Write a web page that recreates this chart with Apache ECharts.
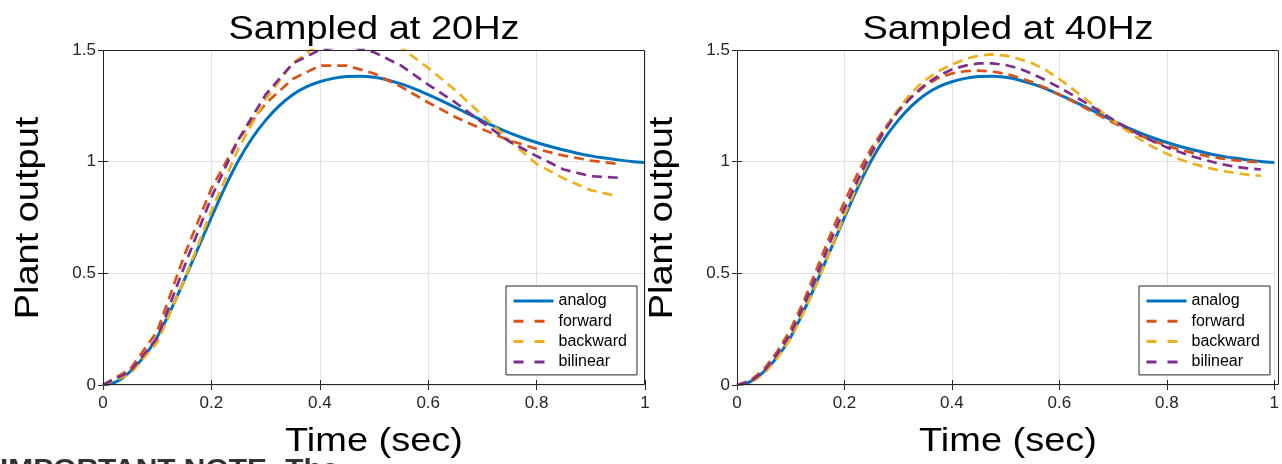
<!DOCTYPE html>
<html><head><meta charset="utf-8">
<script src="https://cdn.jsdelivr.net/npm/echarts@6/dist/echarts.min.js"></script>
<style>html,body{margin:0;padding:0;background:#fff;overflow:hidden}#c{width:1282px;height:464px}</style>
</head><body><div id="c"></div>
<script>
// ---- data ----
const seriesNames = ['analog', 'forward', 'backward', 'bilinear'];
const titles = ['Sampled at 20Hz', 'Sampled at 40Hz'];
const xTickLabels = ['0', '0.2', '0.4', '0.6', '0.8', '1'];
const yTickLabels = ['0', '0.5', '1', '1.5'];

const tAnalog = [0, 0.025, 0.05, 0.075, 0.1, 0.125, 0.15, 0.175, 0.2, 0.225, 0.25, 0.275, 0.3, 0.325, 0.35, 0.375, 0.4, 0.425, 0.45, 0.475, 0.5, 0.525, 0.55, 0.575, 0.6, 0.625, 0.65, 0.675, 0.7, 0.725, 0.75, 0.775, 0.8, 0.825, 0.85, 0.875, 0.9, 0.925, 0.95, 0.975, 1.0];
const analog = [0, 0.015, 0.06, 0.125, 0.215, 0.335, 0.47, 0.61, 0.75, 0.885, 1.005, 1.105, 1.185, 1.25, 1.3, 1.335, 1.358, 1.373, 1.381, 1.383, 1.378, 1.366, 1.348, 1.326, 1.3, 1.272, 1.243, 1.213, 1.183, 1.155, 1.129, 1.106, 1.086, 1.068, 1.052, 1.038, 1.026, 1.016, 1.008, 1.001, 0.996];

const t20 = [0, 0.05, 0.1, 0.15, 0.2, 0.25, 0.3, 0.35, 0.4, 0.45, 0.5, 0.55, 0.6, 0.65, 0.7, 0.75, 0.8, 0.85, 0.9, 0.95];
const forward20 = [0, 0.07, 0.24, 0.58, 0.88, 1.1, 1.26, 1.37, 1.43, 1.43, 1.395, 1.335, 1.265, 1.2, 1.145, 1.095, 1.057, 1.027, 1.005, 0.99];
const backward20 = [0, 0.05, 0.19, 0.47, 0.78, 1.06, 1.28, 1.44, 1.53, 1.57, 1.56, 1.51, 1.42, 1.32, 1.207, 1.095, 0.99, 0.925, 0.872, 0.845];
const bilinear20 = [0, 0.06, 0.21, 0.53, 0.84, 1.1, 1.3, 1.44, 1.5, 1.52, 1.49, 1.43, 1.345, 1.265, 1.175, 1.09, 1.025, 0.965, 0.935, 0.928];

const t40 = [0, 0.025, 0.05, 0.075, 0.1, 0.125, 0.15, 0.175, 0.2, 0.225, 0.25, 0.275, 0.3, 0.325, 0.35, 0.375, 0.4, 0.425, 0.45, 0.475, 0.5, 0.525, 0.55, 0.575, 0.6, 0.625, 0.65, 0.675, 0.7, 0.725, 0.75, 0.775, 0.8, 0.825, 0.85, 0.875, 0.9, 0.925, 0.95, 0.975];
const forward40 = [0, 0.02, 0.07, 0.15, 0.25, 0.38, 0.53, 0.68, 0.82, 0.95, 1.06, 1.15, 1.23, 1.29, 1.34, 1.375, 1.395, 1.405, 1.408, 1.404, 1.393, 1.377, 1.355, 1.33, 1.3, 1.27, 1.238, 1.206, 1.175, 1.145, 1.117, 1.093, 1.071, 1.053, 1.038, 1.025, 1.015, 1.007, 1.001, 0.996];
const backward40 = [0, 0.01, 0.05, 0.12, 0.21, 0.33, 0.46, 0.61, 0.76, 0.9, 1.03, 1.14, 1.235, 1.31, 1.365, 1.405, 1.435, 1.46, 1.475, 1.48, 1.475, 1.46, 1.44, 1.41, 1.37, 1.325, 1.278, 1.23, 1.185, 1.14, 1.1, 1.065, 1.035, 1.01, 0.99, 0.973, 0.96, 0.95, 0.942, 0.937];
const bilinear40 = [0, 0.015, 0.06, 0.14, 0.23, 0.36, 0.5, 0.65, 0.79, 0.92, 1.04, 1.14, 1.225, 1.29, 1.345, 1.385, 1.413, 1.43, 1.44, 1.44, 1.433, 1.417, 1.393, 1.364, 1.332, 1.298, 1.262, 1.225, 1.188, 1.152, 1.12, 1.09, 1.064, 1.042, 1.022, 1.005, 0.99, 0.978, 0.97, 0.965];

const xLabel = 'Time (sec)';
const yLabel = 'Plant output';
const noteText = 'IMPORTANT NOTE: The';

// ---- styling ----
const FONT = '"Liberation Sans", Arial, Helvetica, sans-serif';
const colors = ['#0072BD', '#D95319', '#EDB120', '#7E2F8E'];
const AX = '#262626';
const grids = [
  {left: 103, right: 1282 - 645, top: 50, bottom: 464 - 385},
  {left: 737, right: 1282 - 1279, top: 50, bottom: 464 - 385}
];
const pair = (xs, ys) => xs.map((x, i) => [x, ys[i]]);

const xAxes = [], yAxes = [], series = [], legends = [], graphics = [];
grids.forEach((g, gi) => {
  xAxes.push({
    type: 'value', gridIndex: gi, min: 0, max: 1, interval: 0.2, position: 'bottom',
    axisLine: {show: false},
    axisTick: {show: true, inside: true, length: 5, lineStyle: {color: AX}},
    axisLabel: {color: AX, fontFamily: FONT, fontSize: 17, margin: 10,
      formatter: v => xTickLabels[Math.round(v / 0.2)]},
    splitLine: {show: true, lineStyle: {color: '#e2e2e2', width: 1}}
  });
  xAxes.push({
    type: 'value', gridIndex: gi, min: 0, max: 1, interval: 0.2, position: 'top',
    axisLine: {show: false}, axisLabel: {show: false}, splitLine: {show: false},
    axisTick: {show: true, inside: true, length: 5, lineStyle: {color: AX}}
  });
  yAxes.push({
    type: 'value', gridIndex: gi, min: 0, max: 1.5, interval: 0.5, position: 'left',
    axisLine: {show: false},
    axisTick: {show: true, inside: true, length: 5, lineStyle: {color: AX}},
    axisLabel: {color: AX, fontFamily: FONT, fontSize: 17, margin: 7,
      formatter: v => yTickLabels[Math.round(v / 0.5)]},
    splitLine: {show: true, lineStyle: {color: '#e2e2e2', width: 1}}
  });
  yAxes.push({
    type: 'value', gridIndex: gi, min: 0, max: 1.5, interval: 0.5, position: 'right',
    axisLine: {show: false}, axisLabel: {show: false}, splitLine: {show: false},
    axisTick: {show: true, inside: true, length: 5, lineStyle: {color: AX}}
  });
  const xi = gi * 2, yi = gi * 2;
  const disc = gi === 0 ? [t20, forward20, backward20, bilinear20] : [t40, forward40, backward40, bilinear40];
  series.push({
    name: seriesNames[0], type: 'line', xAxisIndex: xi, yAxisIndex: yi, data: pair(tAnalog, analog),
    smooth: 0.3, showSymbol: false, symbol: 'none', z: 2, clip: true,
    lineStyle: {color: colors[0], width: 3}, itemStyle: {color: colors[0]}
  });
  for (let k = 1; k <= 3; k++) {
    series.push({
      name: seriesNames[k], type: 'line', xAxisIndex: xi, yAxisIndex: yi, data: pair(disc[0], disc[k]),
      showSymbol: false, symbol: 'none', z: 3, clip: true,
      lineStyle: {color: colors[k], width: 2.7, type: [10, 6]}, itemStyle: {color: colors[k]}
    });
  }
  const lx = gi === 0 ? 506 : 1139;
  legends.push({
    orient: 'vertical', left: lx, top: 286, itemWidth: 40, itemHeight: 16, itemGap: 4.3,
    padding: [7, 10, 5, 6], backgroundColor: '#fff', borderColor: AX, borderWidth: 1, borderRadius: 0,
    selectedMode: false,
    itemStyle: {opacity: 0, borderWidth: 0},
    textStyle: {fontFamily: FONT, fontSize: 16, color: '#000', lineHeight: 16, padding: [0, 0, 0, 0]},
    data: seriesNames.map((n, k) => ({
      name: n,
      itemStyle: {opacity: 0, borderWidth: 0},
      lineStyle: k === 0 ? {width: 3, type: 'solid', color: colors[0], opacity: 1} : {width: 3, type: [10, 11], color: colors[k], opacity: 1}
    }))
  });
  const cx = (g.left + (1282 - g.right)) / 2;
  graphics.push({
    type: 'text', x: cx, y: 30, scaleX: 1.15,
    style: {text: titles[gi], font: '33px ' + FONT, fill: '#000', textAlign: 'center', textVerticalAlign: 'middle'}
  });
  graphics.push({
    type: 'text', x: cx, y: 442, scaleX: 1.15,
    style: {text: xLabel, font: '33px ' + FONT, fill: '#000', textAlign: 'center', textVerticalAlign: 'middle'}
  });
  graphics.push({
    type: 'text', x: g.left - 74, y: 218, rotation: Math.PI / 2, scaleX: 1.15,
    style: {text: yLabel, font: '33px ' + FONT, fill: '#000', textAlign: 'center', textVerticalAlign: 'middle'}
  });
  // plot box
  graphics.push({
    type: 'rect', z: 10, silent: true,
    shape: {x: g.left + 0.5, y: g.top + 0.5, width: (1282 - g.right) - g.left - 1, height: (464 - g.bottom) - g.top - 1},
    style: {fill: 'none', stroke: AX, lineWidth: 1}
  });
});
graphics.push({
  type: 'text', x: 0, y: 457, scaleX: 1.15,
  style: {text: noteText, font: 'bold 26px ' + FONT, fill: '#333', textAlign: 'left', textVerticalAlign: 'top'}
});

const chart = echarts.init(document.getElementById('c'), null, {renderer: 'canvas'});
chart.setOption({
  animation: false,
  backgroundColor: '#fff',
  grid: grids,
  xAxis: xAxes,
  yAxis: yAxes,
  legend: legends,
  series: series,
  graphic: graphics
});
</script>
</body></html>
